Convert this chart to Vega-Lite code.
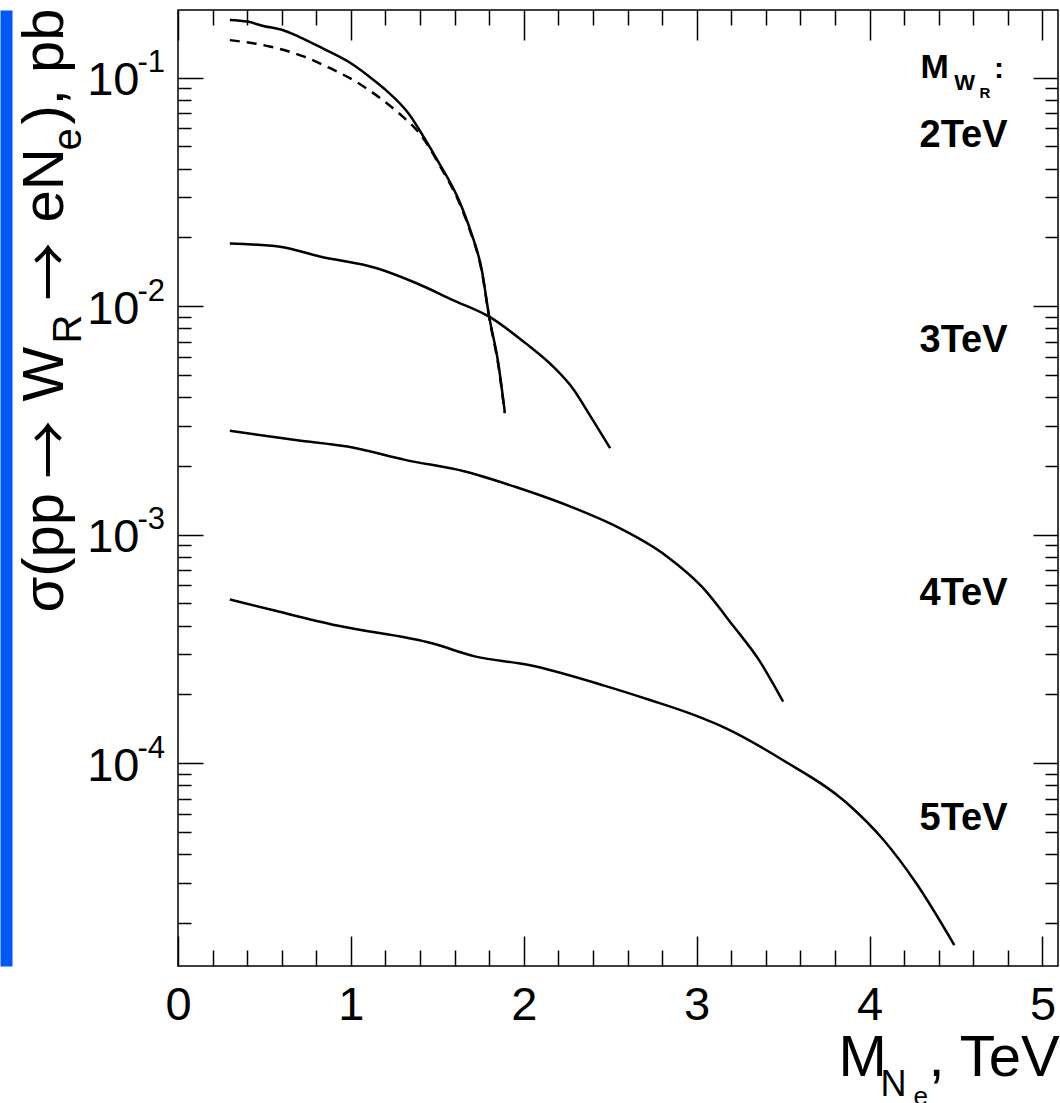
{
 "$schema": "https://vega.github.io/schema/vega-lite/v6.json",
 "width": 880, "height": 956,
 "autosize": {"type": "none"},
 "padding": {"left": 178, "top": 10, "right": 2, "bottom": 137},
 "background": "#ffffff",
 "config": {
  "view": {"stroke": "#000000", "strokeWidth": 1.5},
  "axis": {"grid": false, "domain": false, "ticks": false, "labels": false, "tickColor": "#000000", "tickWidth": 1.5, "labelColor": "#000000", "titleColor": "#000000", "labelFont": "Liberation Sans", "titleFont": "Liberation Sans", "titleFontWeight": "normal", "labelFlush": false, "labelOverlap": false, "titlePadding": 0},
  "text": {"font": "Liberation Sans", "color": "#000000"}
 },
 "resolve": {"axis": {"x": "independent", "y": "independent"}},
 "datasets": {
  "curves": [
   {"series": "2TeV", "x": 0.30, "y": 0.179}, {"series": "2TeV", "x": 0.40, "y": 0.176}, {"series": "2TeV", "x": 0.50, "y": 0.168}, {"series": "2TeV", "x": 0.60, "y": 0.162}, {"series": "2TeV", "x": 0.70, "y": 0.151}, {"series": "2TeV", "x": 0.84, "y": 0.134}, {"series": "2TeV", "x": 1.00, "y": 0.1156}, {"series": "2TeV", "x": 1.10, "y": 0.102}, {"series": "2TeV", "x": 1.19, "y": 0.0899}, {"series": "2TeV", "x": 1.34, "y": 0.0687}, {"series": "2TeV", "x": 1.42, "y": 0.0552}, {"series": "2TeV", "x": 1.50, "y": 0.0436}, {"series": "2TeV", "x": 1.63, "y": 0.0285}, {"series": "2TeV", "x": 1.69, "y": 0.0216}, {"series": "2TeV", "x": 1.757, "y": 0.0144}, {"series": "2TeV", "x": 1.80, "y": 0.0090}, {"series": "2TeV", "x": 1.853, "y": 0.0056}, {"series": "2TeV", "x": 1.89, "y": 0.00345},
   {"series": "2TeV dashed", "x": 0.30, "y": 0.146}, {"series": "2TeV dashed", "x": 0.53, "y": 0.137}, {"series": "2TeV dashed", "x": 0.73, "y": 0.1236}, {"series": "2TeV dashed", "x": 0.88, "y": 0.110}, {"series": "2TeV dashed", "x": 1.03, "y": 0.096}, {"series": "2TeV dashed", "x": 1.17, "y": 0.0813}, {"series": "2TeV dashed", "x": 1.30, "y": 0.0675}, {"series": "2TeV dashed", "x": 1.38, "y": 0.059}, {"series": "2TeV dashed", "x": 1.45, "y": 0.050}, {"series": "2TeV dashed", "x": 1.50, "y": 0.0430}, {"series": "2TeV dashed", "x": 1.63, "y": 0.0280}, {"series": "2TeV dashed", "x": 1.69, "y": 0.0213}, {"series": "2TeV dashed", "x": 1.757, "y": 0.0142}, {"series": "2TeV dashed", "x": 1.80, "y": 0.0089}, {"series": "2TeV dashed", "x": 1.853, "y": 0.0055}, {"series": "2TeV dashed", "x": 1.89, "y": 0.0034},
   {"series": "3TeV", "x": 0.30, "y": 0.0188}, {"series": "3TeV", "x": 0.59, "y": 0.0182}, {"series": "3TeV", "x": 0.82, "y": 0.0165}, {"series": "3TeV", "x": 1.15, "y": 0.01466}, {"series": "3TeV", "x": 1.38, "y": 0.0126}, {"series": "3TeV", "x": 1.59, "y": 0.01064}, {"series": "3TeV", "x": 1.80, "y": 0.0090}, {"series": "3TeV", "x": 2.01, "y": 0.00689}, {"series": "3TeV", "x": 2.17, "y": 0.00544}, {"series": "3TeV", "x": 2.29, "y": 0.0043}, {"series": "3TeV", "x": 2.38, "y": 0.00335}, {"series": "3TeV", "x": 2.50, "y": 0.00239},
   {"series": "4TeV", "x": 0.30, "y": 0.00285}, {"series": "4TeV", "x": 0.69, "y": 0.00259}, {"series": "4TeV", "x": 0.98, "y": 0.00243}, {"series": "4TeV", "x": 1.32, "y": 0.00212}, {"series": "4TeV", "x": 1.66, "y": 0.00189}, {"series": "4TeV", "x": 1.95, "y": 0.00162}, {"series": "4TeV", "x": 2.30, "y": 0.00130}, {"series": "4TeV", "x": 2.52, "y": 0.00110}, {"series": "4TeV", "x": 2.83, "y": 0.000801}, {"series": "4TeV", "x": 3.03, "y": 0.000592}, {"series": "4TeV", "x": 3.21, "y": 0.000400}, {"series": "4TeV", "x": 3.36, "y": 0.000283}, {"series": "4TeV", "x": 3.50, "y": 0.000186},
   {"series": "5TeV", "x": 0.30, "y": 0.00052}, {"series": "5TeV", "x": 0.54, "y": 0.000469}, {"series": "5TeV", "x": 0.92, "y": 0.000400}, {"series": "5TeV", "x": 1.48, "y": 0.000333}, {"series": "5TeV", "x": 1.71, "y": 0.000294}, {"series": "5TeV", "x": 2.03, "y": 0.000269}, {"series": "5TeV", "x": 2.47, "y": 0.000218}, {"series": "5TeV", "x": 2.73, "y": 0.000189}, {"series": "5TeV", "x": 2.98, "y": 0.000163}, {"series": "5TeV", "x": 3.17, "y": 0.000142}, {"series": "5TeV", "x": 3.50, "y": 0.000103}, {"series": "5TeV", "x": 3.87, "y": 0.0000668}, {"series": "5TeV", "x": 4.08, "y": 0.0000462}, {"series": "5TeV", "x": 4.27, "y": 0.0000298}, {"series": "5TeV", "x": 4.49, "y": 0.0000160}
  ],
  "tags": [
   {"label": "2TeV", "x": 4.289, "y": 0.0497},
   {"label": "3TeV", "x": 4.289, "y": 0.00631},
   {"label": "4TeV", "x": 4.289, "y": 0.000492},
   {"label": "5TeV", "x": 4.289, "y": 0.0000509}
  ]
 },
 "layer": [
  {
   "data": {"name": "curves"},
   "transform": [{"filter": "datum.series !== '2TeV dashed'"}],
   "mark": {"type": "line", "color": "#000000", "strokeWidth": 2.5, "interpolate": "monotone"},
   "encoding": {
    "x": {"field": "x", "type": "quantitative", "scale": {"domain": [0, 5.09], "nice": false, "zero": false},
     "axis": {"orient": "bottom", "ticks": true, "tickSize": -30, "values": [0, 1, 2, 3, 4, 5], "title": null}},
    "y": {"field": "y", "type": "quantitative", "scale": {"type": "log", "domain": [0.00001295, 0.1978], "nice": false},
     "axis": {"orient": "left", "ticks": true, "tickSize": -25, "values": [0.0001, 0.001, 0.01, 0.1], "title": "σ(pp", "titleAngle": -90, "titleX": -116, "titleY": 602, "titleAlign": "left", "titleBaseline": "alphabetic", "titleFontSize": 58}},
    "detail": {"field": "series"}
   }
  },
  {
   "data": {"name": "curves"},
   "transform": [{"filter": "datum.series === '2TeV dashed'"}],
   "mark": {"type": "line", "color": "#000000", "strokeWidth": 2.5, "strokeDash": [10, 7], "interpolate": "monotone"},
   "encoding": {
    "x": {"field": "x", "type": "quantitative", "scale": {"domain": [0, 5.09], "nice": false, "zero": false},
     "axis": {"orient": "bottom", "ticks": true, "tickSize": -16, "values": [0.2, 0.4, 0.6, 0.8, 1.2, 1.4, 1.6, 1.8, 2.2, 2.4, 2.6, 2.8, 3.2, 3.4, 3.6, 3.8, 4.2, 4.4, 4.6, 4.8], "title": "N", "titleAngle": 0, "titleX": 702, "titleY": 129, "titleAlign": "left", "titleBaseline": "alphabetic", "titleFontSize": 36}},
    "y": {"field": "y", "type": "quantitative", "scale": {"type": "log", "domain": [0.00001295, 0.1978], "nice": false},
     "axis": {"orient": "left", "ticks": true, "tickSize": -13, "values": [0.00002, 0.00003, 0.00004, 0.00005, 0.00006, 0.00007, 0.00008, 0.00009, 0.0002, 0.0003, 0.0004, 0.0005, 0.0006, 0.0007, 0.0008, 0.0009, 0.002, 0.003, 0.004, 0.005, 0.006, 0.007, 0.008, 0.009, 0.02, 0.03, 0.04, 0.05, 0.06, 0.07, 0.08, 0.09], "title": "R", "titleAngle": -90, "titleX": -98, "titleY": 333, "titleAlign": "left", "titleBaseline": "alphabetic", "titleFontSize": 40}},
    "detail": {"field": "series"}
   }
  },
  {
   "data": {"name": "tags"},
   "mark": {"type": "text", "align": "left", "baseline": "alphabetic", "fontSize": 38, "fontWeight": "bold", "font": "Liberation Sans", "color": "#000000"},
   "encoding": {
    "x": {"field": "x", "type": "quantitative", "scale": {"domain": [0, 5.09], "nice": false, "zero": false},
     "axis": {"orient": "bottom", "labels": true, "values": [0, 1, 2, 3, 4, 5], "labelFontSize": 47, "labelPadding": 16, "labelAlign": "center", "labelBaseline": "top", "title": "M", "titleAngle": 0, "titleX": 660, "titleY": 109, "titleAlign": "left", "titleBaseline": "alphabetic", "titleFontSize": 58}},
    "y": {"field": "y", "type": "quantitative", "scale": {"type": "log", "domain": [0.00001295, 0.1978], "nice": false},
     "axis": {"orient": "left", "labels": true, "values": [0.0001, 0.001, 0.01, 0.1], "labelExpr": "'10'", "labelFontSize": 47, "labelPadding": 39, "labelAlign": "right", "labelBaseline": "middle", "labelOffset": 3, "title": "eN", "titleAngle": -90, "titleX": -116, "titleY": 212, "titleAlign": "left", "titleBaseline": "alphabetic", "titleFontSize": 58}},
    "text": {"field": "label"}
   }
  },
  {
   "data": {"values": [{"label": "M", "x": 4.295, "y": 0.0997}]},
   "mark": {"type": "text", "align": "left", "baseline": "alphabetic", "fontSize": 34, "fontWeight": "bold", "font": "Liberation Sans", "color": "#000000"},
   "encoding": {
    "x": {"field": "x", "type": "quantitative", "scale": {"domain": [0, 5.09], "nice": false, "zero": false},
     "axis": {"orient": "top", "ticks": true, "tickSize": -30, "values": [0, 1, 2, 3, 4, 5], "title": "→", "titleFont": "Noto Sans CJK SC", "titleAngle": -90, "titleX": -109, "titleY": 290, "titleAlign": "left", "titleBaseline": "alphabetic", "titleFontSize": 58}},
    "y": {"field": "y", "type": "quantitative", "scale": {"type": "log", "domain": [0.00001295, 0.1978], "nice": false},
     "axis": {"orient": "left", "labels": true, "values": [0.0001, 0.001, 0.01, 0.1], "labelExpr": "'-' + round(-log(datum.value)/LN10)", "labelFontSize": 31, "labelPadding": 41, "labelAlign": "left", "labelBaseline": "alphabetic", "labelOffset": -6, "title": "e", "titleAngle": -90, "titleX": -98, "titleY": 140, "titleAlign": "left", "titleBaseline": "alphabetic", "titleFontSize": 40}},
    "text": {"field": "label"}
   }
  },
  {
   "data": {"values": [{"label": "W", "x": 4.49, "y": 0.0883}]},
   "mark": {"type": "text", "align": "left", "baseline": "alphabetic", "fontSize": 22, "fontWeight": "bold", "font": "Liberation Sans", "color": "#000000"},
   "encoding": {
    "x": {"field": "x", "type": "quantitative", "scale": {"domain": [0, 5.09], "nice": false, "zero": false},
     "axis": {"orient": "top", "ticks": true, "tickSize": -15, "values": [0.2, 0.4, 0.6, 0.8, 1.2, 1.4, 1.6, 1.8, 2.2, 2.4, 2.6, 2.8, 3.2, 3.4, 3.6, 3.8, 4.2, 4.4, 4.6, 4.8], "title": "→", "titleFont": "Noto Sans CJK SC", "titleAngle": -90, "titleX": -109, "titleY": 468, "titleAlign": "left", "titleBaseline": "alphabetic", "titleFontSize": 58}},
    "y": {"field": "y", "type": "quantitative", "scale": {"type": "log", "domain": [0.00001295, 0.1978], "nice": false},
     "axis": {"orient": "right", "ticks": true, "tickSize": -25, "values": [0.0001, 0.001, 0.01, 0.1], "title": "), pb", "titleAngle": -90, "titleX": -996, "titleY": 114, "titleAlign": "left", "titleBaseline": "alphabetic", "titleFontSize": 58}},
    "text": {"field": "label"}
   }
  },
  {
   "data": {"values": [{"label": "R", "x": 4.636, "y": 0.0815}]},
   "mark": {"type": "text", "align": "left", "baseline": "alphabetic", "fontSize": 15, "fontWeight": "bold", "font": "Liberation Sans", "color": "#000000"},
   "encoding": {
    "x": {"field": "x", "type": "quantitative", "scale": {"domain": [0, 5.09], "nice": false, "zero": false},
     "axis": {"orient": "bottom", "title": "e", "titleAngle": 0, "titleX": 735, "titleY": 138, "titleAlign": "left", "titleBaseline": "alphabetic", "titleFontSize": 26}},
    "y": {"field": "y", "type": "quantitative", "scale": {"type": "log", "domain": [0.00001295, 0.1978], "nice": false},
     "axis": {"orient": "right", "ticks": true, "tickSize": -13, "values": [0.00002, 0.00003, 0.00004, 0.00005, 0.00006, 0.00007, 0.00008, 0.00009, 0.0002, 0.0003, 0.0004, 0.0005, 0.0006, 0.0007, 0.0008, 0.0009, 0.002, 0.003, 0.004, 0.005, 0.006, 0.007, 0.008, 0.009, 0.02, 0.03, 0.04, 0.05, 0.06, 0.07, 0.08, 0.09], "title": "W", "titleAngle": -90, "titleX": -996, "titleY": 391, "titleAlign": "left", "titleBaseline": "alphabetic", "titleFontSize": 58}},
    "text": {"field": "label"}
   }
  },
  {
   "data": {"values": [{"label": ":", "x": 4.72, "y": 0.0997}]},
   "mark": {"type": "text", "align": "left", "baseline": "alphabetic", "fontSize": 30, "fontWeight": "bold", "font": "Liberation Sans", "color": "#000000"},
   "encoding": {
    "x": {"field": "x", "type": "quantitative", "scale": {"domain": [0, 5.09], "nice": false, "zero": false},
     "axis": {"orient": "bottom", "title": ", TeV", "titleAngle": 0, "titleX": 750, "titleY": 109, "titleAlign": "left", "titleBaseline": "alphabetic", "titleFontSize": 58}},
    "y": {"field": "y", "type": "quantitative", "scale": {"type": "log", "domain": [0.00001295, 0.1978], "nice": false},
     "axis": {"orient": "left", "offset": 172, "domain": true, "domainColor": "#0058f5", "domainWidth": 12, "title": null}},
    "text": {"field": "label"}
   }
  }
 ]
}
